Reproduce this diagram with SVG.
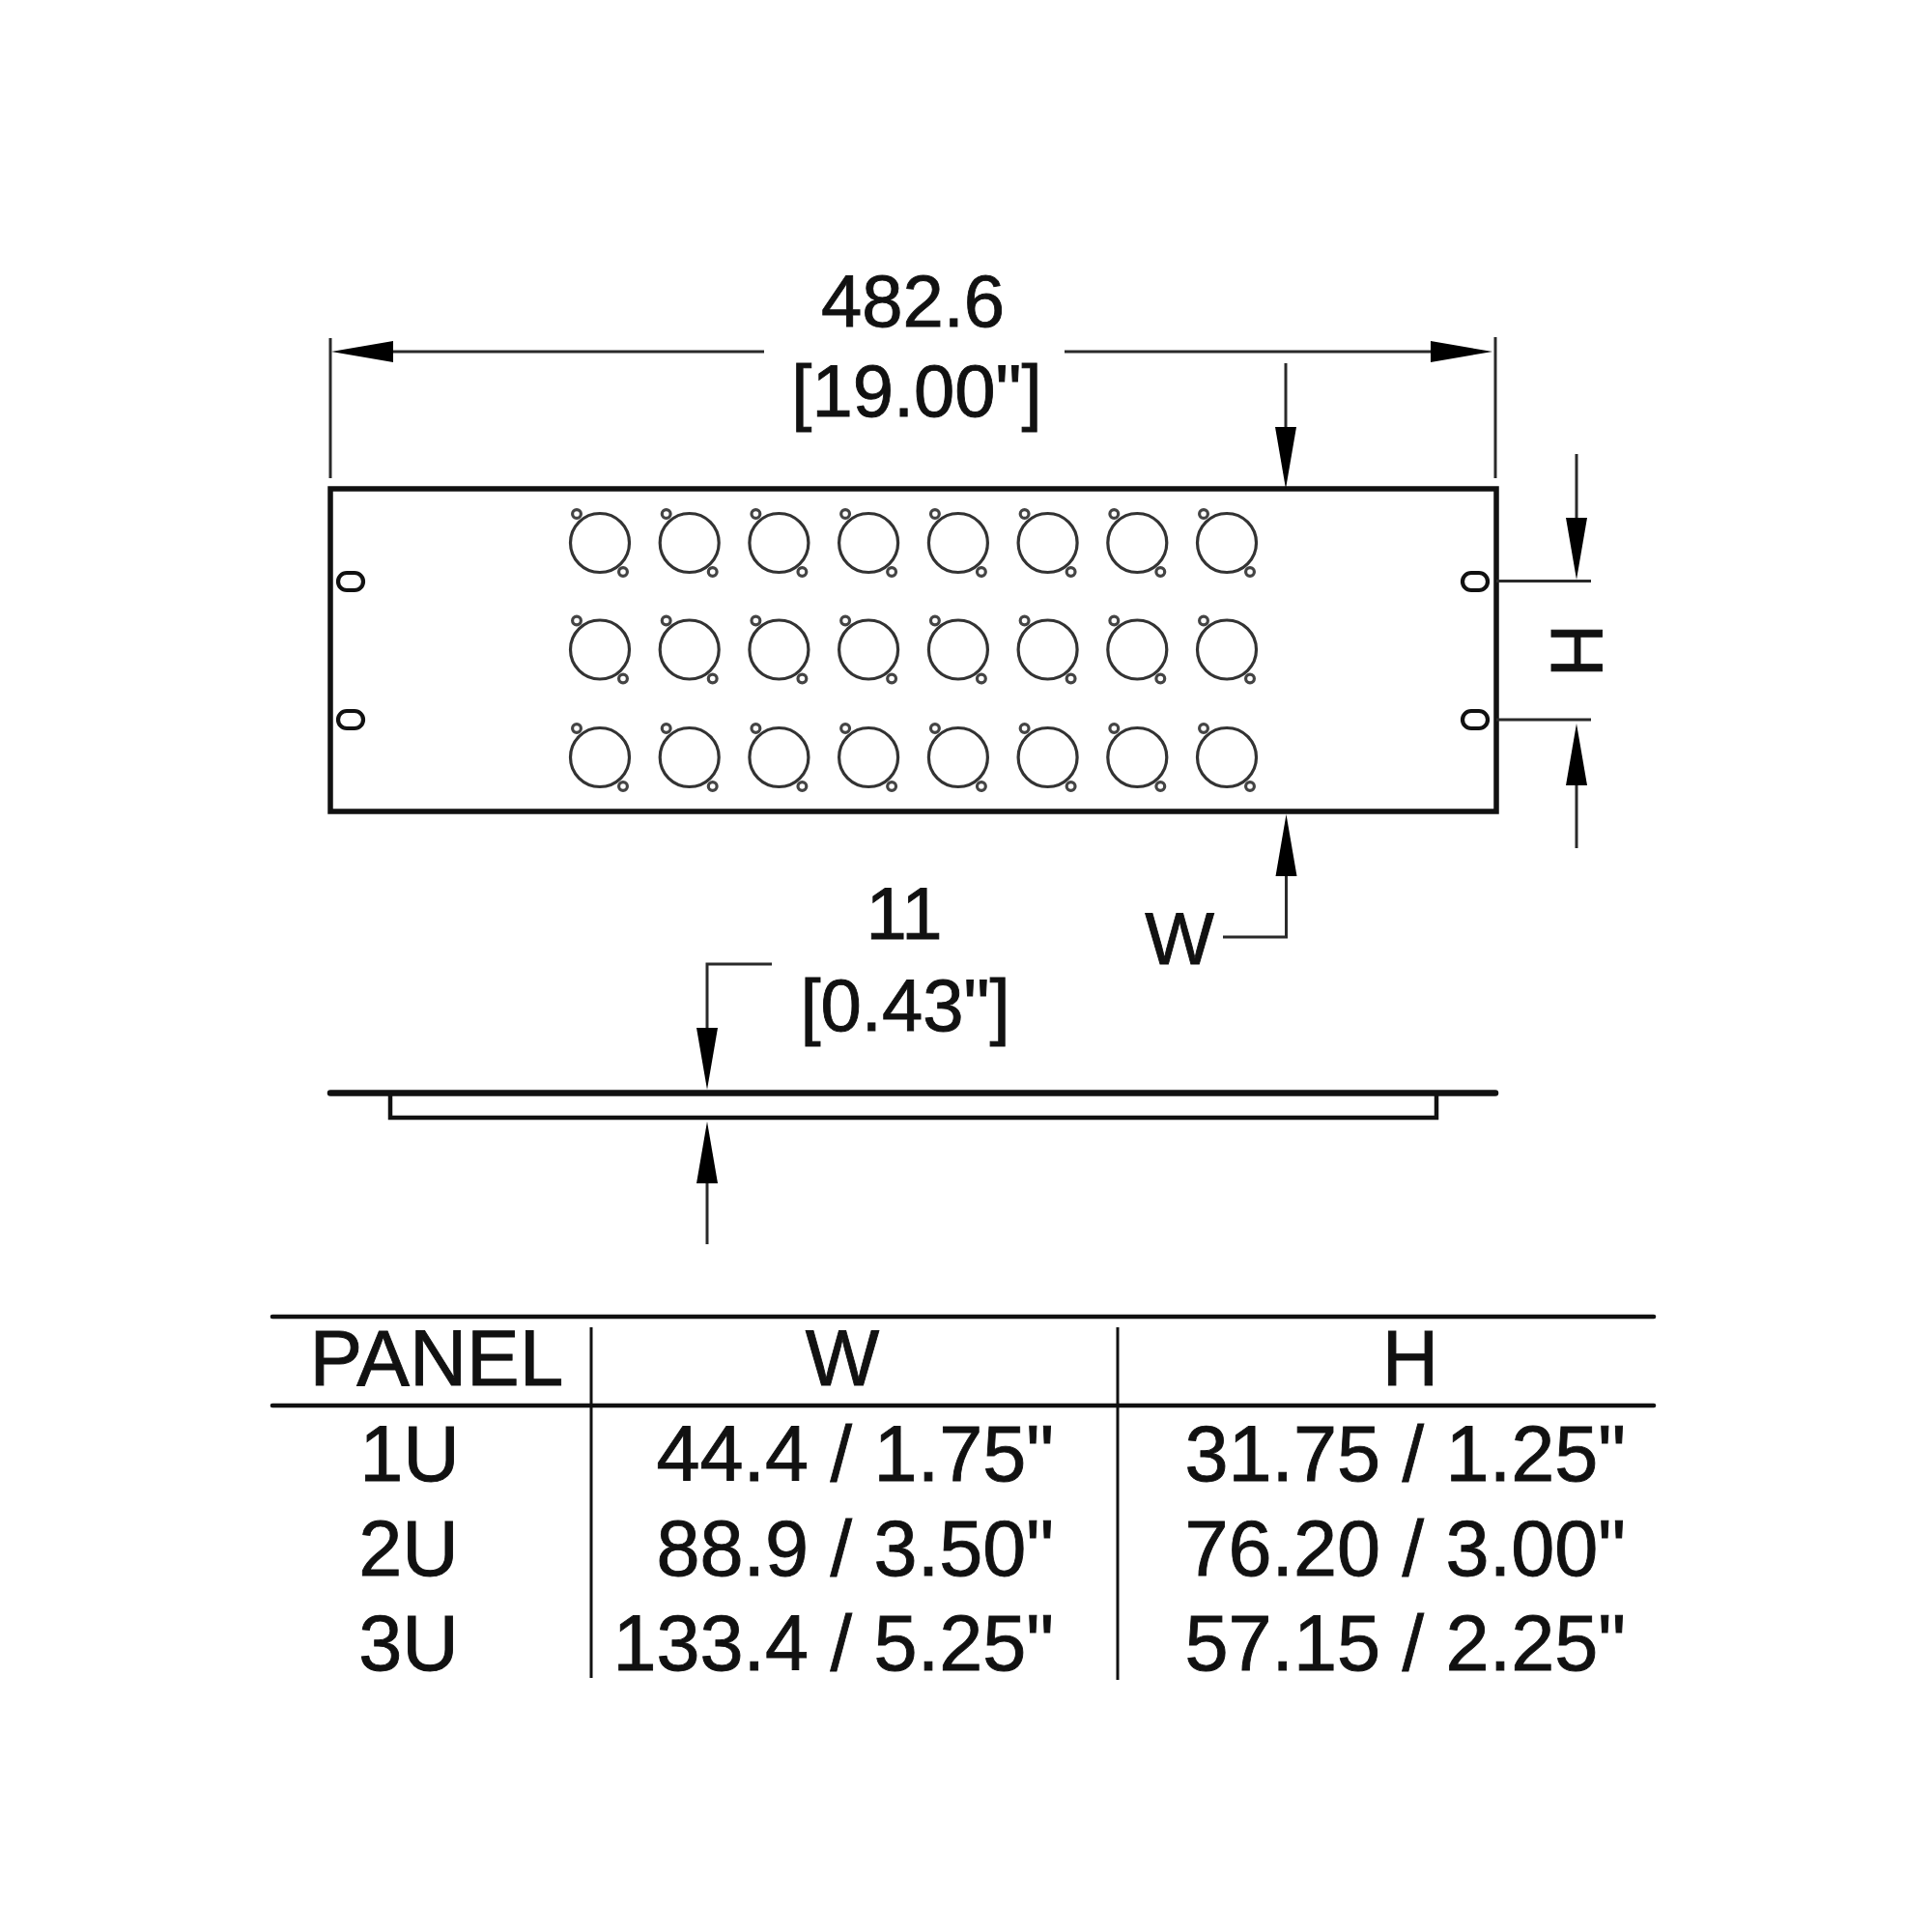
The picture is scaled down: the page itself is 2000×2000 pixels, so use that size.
<svg xmlns="http://www.w3.org/2000/svg" xmlns:xlink="http://www.w3.org/1999/xlink" width="2000" height="2000" viewBox="0 0 2000 2000">
<style>
text{font-family:"Liberation Sans",Arial,sans-serif;fill:#111;stroke:#111;stroke-width:.9;text-anchor:middle}
.t76{font-size:76px}
.t81{font-size:81px}
.h{font-size:82px}
.r{text-anchor:end}
.dim{fill:none;stroke:#2a2a2a;stroke-width:3}
.arr{fill:none;stroke:#2a2a2a;stroke-width:3;marker-end:url(#ah)}
.edge{fill:none;stroke:#111;stroke-width:5.5}
.thin{fill:none;stroke:#111;stroke-width:4.5}
.rule{fill:none;stroke:#111;stroke-width:4.6;stroke-linecap:round}
.vr{fill:none;stroke:#111;stroke-width:3}
.ring{fill:none;stroke:#333;stroke-width:3.2}
.hole{fill:none;stroke:#444;stroke-width:3.2}
.slot{fill:none;stroke:#111;stroke-width:4.2}
</style>
<defs>
<marker id="ah" markerUnits="userSpaceOnUse" markerWidth="70" markerHeight="26" refX="0" refY="13" orient="auto">
<path d="M0,2 L64,13 L0,24 Z" fill="#000"/>
</marker>
<g id="jack">
<circle class="ring" r="30.5"/>
<circle class="hole" cx="-24" cy="-30" r="4.4"/>
<circle class="hole" cx="24" cy="30" r="4.4"/>
</g>
<rect id="mslot" class="slot" x="-13" y="-9" width="26" height="18" rx="9" ry="9"/>
</defs>
<rect width="2000" height="2000" fill="#fff"/>
<g id="panel"><rect class="edge" x="342" y="506" width="1207" height="334"/></g>
<g id="mount-slots">
<use id="slot-tl" href="#mslot" x="363" y="602"/>
<use id="slot-bl" href="#mslot" x="363" y="745"/>
<use id="slot-tr" href="#mslot" x="1527" y="602"/>
<use id="slot-br" href="#mslot" x="1527" y="745"/>
</g>
<g id="jacks">
<use id="j-1-1" href="#jack" x="621" y="562"/><use id="j-1-2" href="#jack" x="713.7" y="562"/><use id="j-1-3" href="#jack" x="806.4" y="562"/><use id="j-1-4" href="#jack" x="899.1" y="562"/><use id="j-1-5" href="#jack" x="991.9" y="562"/><use id="j-1-6" href="#jack" x="1084.6" y="562"/><use id="j-1-7" href="#jack" x="1177.3" y="562"/><use id="j-1-8" href="#jack" x="1270" y="562"/>
<use id="j-2-1" href="#jack" x="621" y="672.5"/><use id="j-2-2" href="#jack" x="713.7" y="672.5"/><use id="j-2-3" href="#jack" x="806.4" y="672.5"/><use id="j-2-4" href="#jack" x="899.1" y="672.5"/><use id="j-2-5" href="#jack" x="991.9" y="672.5"/><use id="j-2-6" href="#jack" x="1084.6" y="672.5"/><use id="j-2-7" href="#jack" x="1177.3" y="672.5"/><use id="j-2-8" href="#jack" x="1270" y="672.5"/>
<use id="j-3-1" href="#jack" x="621" y="784"/><use id="j-3-2" href="#jack" x="713.7" y="784"/><use id="j-3-3" href="#jack" x="806.4" y="784"/><use id="j-3-4" href="#jack" x="899.1" y="784"/><use id="j-3-5" href="#jack" x="991.9" y="784"/><use id="j-3-6" href="#jack" x="1084.6" y="784"/><use id="j-3-7" href="#jack" x="1177.3" y="784"/><use id="j-3-8" href="#jack" x="1270" y="784"/>
</g>
<g id="side-view">
<path d="M342,1131.5 H1548" fill="none" stroke="#111" stroke-width="6.5" stroke-linecap="round"/>
<path class="thin" d="M404,1131 V1157 H1487 V1131"/>
</g>
<g id="connectors">
<path class="dim" d="M342,350 V495"/>
<path class="dim" d="M1548,349 V495"/>
<path class="arr" d="M791,364 H407"/>
<path class="arr" d="M1102,364 H1481"/>
<path class="arr" d="M1331,376 V442"/>
<path class="arr" d="M1266,970 H1331.5 V907"/>
<path class="arr" d="M1632,470 V536"/>
<path class="arr" d="M1632,878 V813"/>
<path class="dim" d="M1549,601.5 H1647"/>
<path class="dim" d="M1549,745 H1647"/>
<path class="arr" d="M799,998 H732 V1064"/>
<path class="arr" d="M732,1288 V1225"/>
</g>
<g id="labels">
<text class="t76" x="945" y="338">482.6</text>
<text class="t76" x="949" y="431">[19.00"]</text>
<text class="t76" x="936" y="972">11</text>
<text class="t76" x="937" y="1067">[0.43"]</text>
<text class="t76" x="1221" y="998">W</text>
<text class="t76" transform="translate(1605.5,673.5) rotate(90)">H</text>
</g>
<g id="table">
<path class="rule" d="M282,1363 H1712"/>
<path class="rule" d="M282,1455 H1712"/>
<path class="vr" d="M612,1374 V1737"/>
<path class="vr" d="M1157,1374 V1739"/>
<text class="h" x="452" y="1434">PANEL</text>
<text class="t81" x="872" y="1434">W</text>
<text class="t81" x="1460" y="1434">H</text>
<text class="t81" x="424" y="1533">1U</text>
<text class="t81 r" x="1091" y="1533">44.4 / 1.75"</text>
<text class="t81 r" x="1683" y="1533">31.75 / 1.25"</text>
<text class="t81" x="423" y="1631">2U</text>
<text class="t81 r" x="1091" y="1631">88.9 / 3.50"</text>
<text class="t81 r" x="1683" y="1631">76.20 / 3.00"</text>
<text class="t81" x="423" y="1729">3U</text>
<text class="t81 r" x="1091" y="1729">133.4 / 5.25"</text>
<text class="t81 r" x="1683" y="1729">57.15 / 2.25"</text>
</g>
</svg>
